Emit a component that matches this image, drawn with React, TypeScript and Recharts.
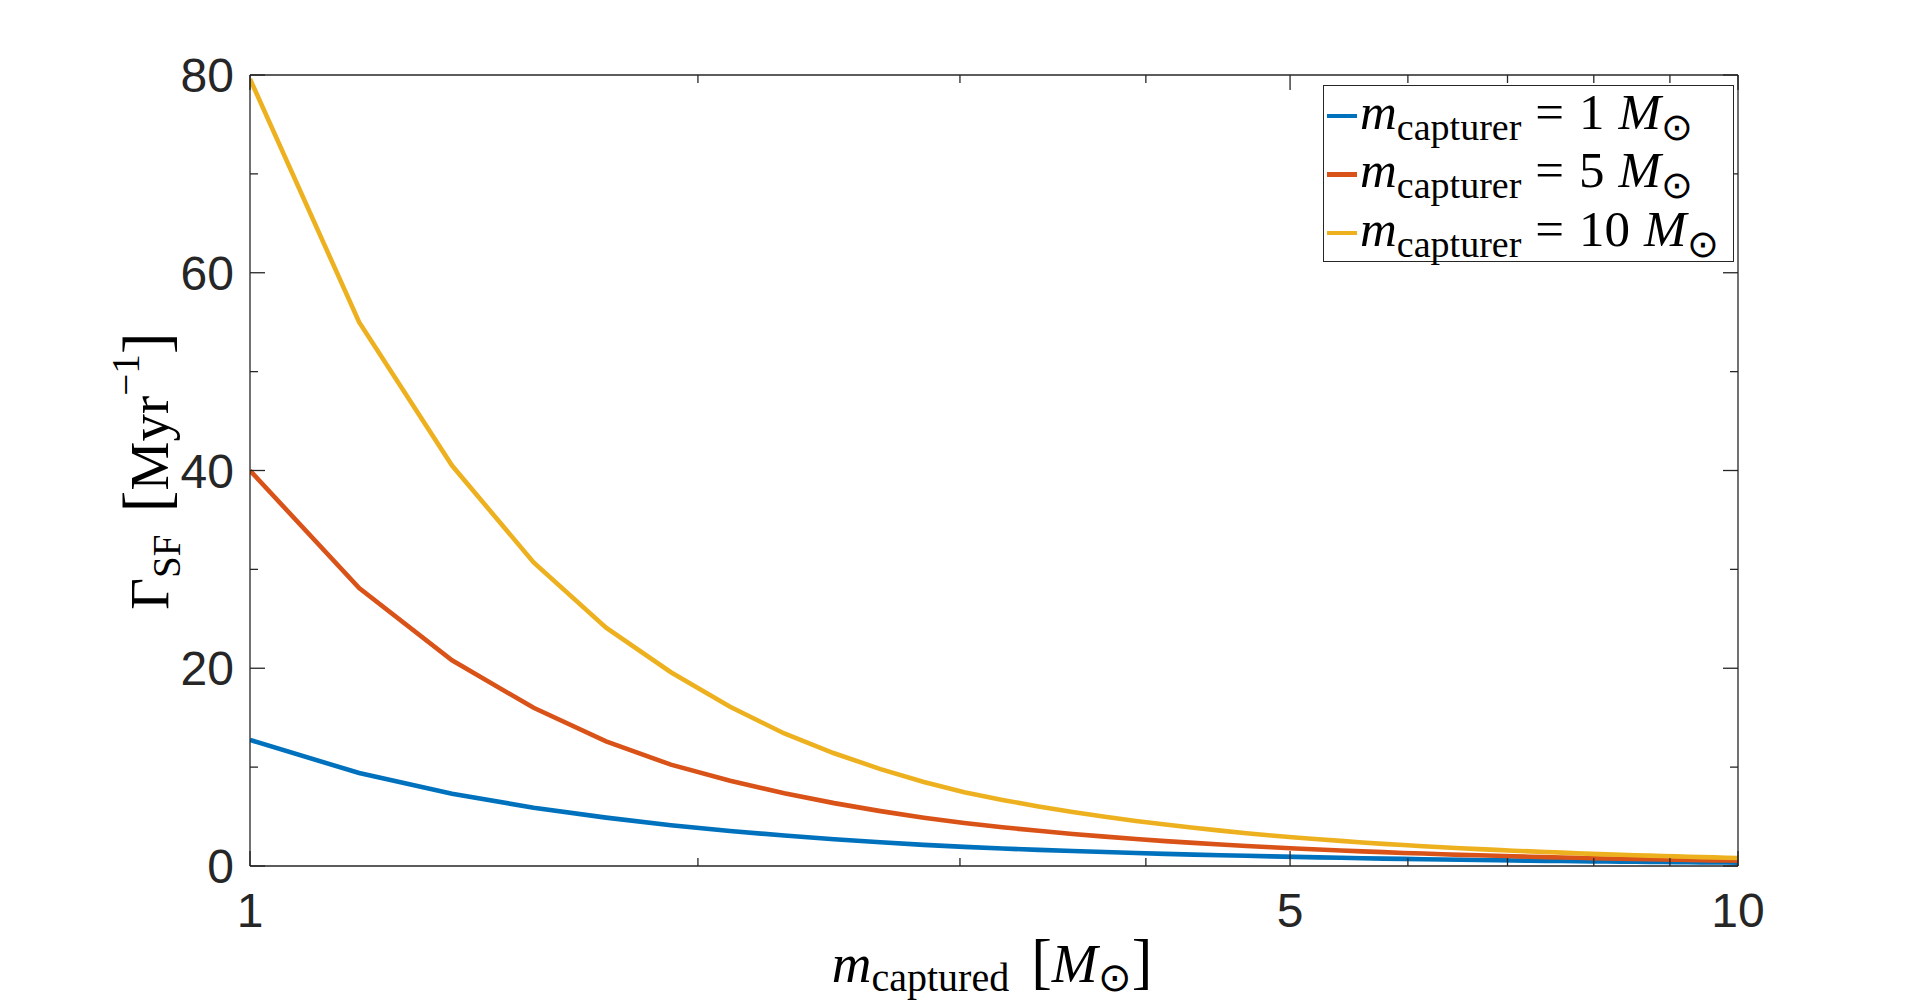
import { LineChart, Line, XAxis, YAxis, Legend } from 'recharts';

// m_captured sample points (linspace 1..10, 50 points)
const M_CAPTURED = [
  1.0, 1.184, 1.367, 1.551, 1.735, 1.918, 2.102, 2.286, 2.469, 2.653,
  2.837, 3.02, 3.204, 3.388, 3.571, 3.755, 3.939, 4.122, 4.306, 4.49,
  4.673, 4.857, 5.041, 5.224, 5.408, 5.592, 5.776, 5.959, 6.143, 6.327,
  6.51, 6.694, 6.878, 7.061, 7.245, 7.429, 7.612, 7.796, 7.98, 8.163,
  8.347, 8.531, 8.714, 8.898, 9.082, 9.265, 9.449, 9.633, 9.816, 10.0,
];

// Gamma_SF [Myr^-1]
const RATE_M1 = [
  12.75, 9.4, 7.3, 5.9, 4.89, 4.13, 3.54, 3.08, 2.7, 2.4,
  2.14, 1.93, 1.77, 1.63, 1.51, 1.41, 1.31, 1.23, 1.15, 1.09,
  1.03, 0.97, 0.92, 0.87, 0.83, 0.79, 0.75, 0.72, 0.69, 0.66,
  0.63, 0.61, 0.59, 0.56, 0.54, 0.52, 0.51, 0.49, 0.47, 0.46,
  0.44, 0.43, 0.42, 0.4, 0.39, 0.38, 0.37, 0.36, 0.35, 0.34,
];
const RATE_M5 = [
  40.0, 28.1, 20.8, 16.0, 12.6, 10.25, 8.62, 7.36, 6.36, 5.55,
  4.89, 4.35, 3.92, 3.56, 3.24, 2.97, 2.73, 2.52, 2.34, 2.17,
  2.03, 1.89, 1.77, 1.67, 1.57, 1.48, 1.4, 1.32, 1.26, 1.19,
  1.13, 1.08, 1.03, 0.98, 0.94, 0.9, 0.86, 0.83, 0.79, 0.76,
  0.73, 0.71, 0.68, 0.66, 0.63, 0.61, 0.59, 0.57, 0.55, 0.54,
];
const RATE_M10 = [
  79.6, 55.0, 40.5, 30.7, 24.1, 19.6, 16.1, 13.4, 11.4, 9.8,
  8.5, 7.45, 6.68, 6.02, 5.46, 4.98, 4.56, 4.19, 3.87, 3.58,
  3.32, 3.09, 2.89, 2.7, 2.54, 2.38, 2.24, 2.12, 2.0, 1.9,
  1.8, 1.71, 1.63, 1.55, 1.48, 1.41, 1.35, 1.29, 1.23, 1.18,
  1.14, 1.09, 1.05, 1.01, 0.97, 0.94, 0.9, 0.87, 0.84, 0.81,
];

const CAPTURER_MASSES = ['1', '5', '10'];
const SERIES_KEYS = ['m1', 'm5', 'm10'];
const SERIES_COLORS = ['#0072BD', '#D95319', '#EDB120'];

const X_TICKS = [1, 2, 3, 4, 5, 6, 7, 8, 9, 10];
const X_LABELS = [1, 5, 10];
const Y_TICKS = [0, 10, 20, 30, 40, 50, 60, 70, 80];
const Y_LABELS = [0, 20, 40, 60, 80];

const rows = M_CAPTURED.map((x, i) => ({
  x,
  m1: RATE_M1[i],
  m5: RATE_M5[i],
  m10: RATE_M10[i],
}));

const AXIS = '#262626';
const SANS = '"Liberation Sans", Arial, Helvetica, sans-serif';
const SERIF = '"Liberation Serif", "Times New Roman", serif';
const MAJOR = 15;
const MINOR = 8;

function XTick({ x, y, payload, side }: any) {
  const v = payload.value;
  const len = X_LABELS.includes(v) ? MAJOR : MINOR;
  const dir = side === 'bottom' ? -1 : 1;
  return (
    <g>
      <line x1={x} y1={y} x2={x} y2={y + dir * len} stroke={AXIS} strokeWidth={1.3} />
      {side === 'bottom' && X_LABELS.includes(v) && (
        <text x={x} y={y + 61} textAnchor="middle" fontFamily={SANS} fontSize={48} fill={AXIS}>
          {v}
        </text>
      )}
    </g>
  );
}

function YTick({ x, y, payload, side }: any) {
  const v = payload.value;
  const len = Y_LABELS.includes(v) ? MAJOR : MINOR;
  const dir = side === 'left' ? 1 : -1;
  return (
    <g>
      <line x1={x} y1={y} x2={x + dir * len} y2={y} stroke={AXIS} strokeWidth={1.3} />
      {side === 'left' && Y_LABELS.includes(v) && (
        <text x={x - 16} y={y + 17} textAnchor="end" fontFamily={SANS} fontSize={48} fill={AXIS}>
          {v}
        </text>
      )}
    </g>
  );
}

const sub = { fontSize: 38, verticalAlign: '-0.28em', lineHeight: 1 };

function LegendBox() {
  return (
    <div
      style={{
        position: 'relative',
        width: 409,
        height: 175,
        border: `1.3px solid ${AXIS}`,
        background: '#fff',
      }}
    >
      {CAPTURER_MASSES.map((m, i) => (
        <div
          key={m}
          style={{
            position: 'absolute',
            left: 0,
            top: 1 + i * 58.5,
            height: 58,
            display: 'flex',
            alignItems: 'center',
            whiteSpace: 'nowrap',
          }}
        >
          <span style={{ display: 'inline-block', width: 30, height: 4.5, marginLeft: 3, background: SERIES_COLORS[i] }} />
          <span style={{ fontFamily: SERIF, fontSize: 51, lineHeight: 1, color: '#000', marginLeft: 3 }}>
            <i>m</i>
            <span style={sub}>capturer</span>
            <span style={{ margin: '0 15px 0 14px' }}>=</span>
            {m}
            <span style={{ marginLeft: 14 }}>
              <i>M</i>
            </span>
            <span style={sub}>⊙</span>
          </span>
        </div>
      ))}
    </div>
  );
}

export default function App() {
  return (
    <div style={{ position: 'absolute', left: 0, top: 0, width: 1920, height: 1005, background: '#fff' }}>
      <LineChart width={1920} height={1005} data={rows} margin={{ top: 74, right: 181, bottom: 138, left: 249 }}>
        <XAxis
          xAxisId="b"
          dataKey="x"
          type="number"
          scale="log"
          domain={[1, 10]}
          allowDataOverflow
          ticks={X_TICKS}
          interval={0}
          height={1}
          tickSize={0}
          tickMargin={0}
          tickLine={false}
          axisLine={{ stroke: AXIS, strokeWidth: 1.3 }}
          tick={(p: any) => <XTick {...p} side="bottom" />}
        />
        <XAxis
          xAxisId="t"
          orientation="top"
          dataKey="x"
          type="number"
          scale="log"
          domain={[1, 10]}
          allowDataOverflow
          ticks={X_TICKS}
          interval={0}
          height={1}
          tickSize={0}
          tickMargin={0}
          tickLine={false}
          axisLine={{ stroke: AXIS, strokeWidth: 1.3 }}
          tick={(p: any) => <XTick {...p} side="top" />}
        />
        <YAxis
          yAxisId="l"
          type="number"
          domain={[0, 80]}
          allowDataOverflow
          ticks={Y_TICKS}
          interval={0}
          width={1}
          tickSize={0}
          tickMargin={0}
          tickLine={false}
          axisLine={{ stroke: AXIS, strokeWidth: 1.3 }}
          tick={(p: any) => <YTick {...p} side="left" />}
        />
        <YAxis
          yAxisId="r"
          orientation="right"
          type="number"
          domain={[0, 80]}
          allowDataOverflow
          ticks={Y_TICKS}
          interval={0}
          width={1}
          tickSize={0}
          tickMargin={0}
          tickLine={false}
          axisLine={{ stroke: AXIS, strokeWidth: 1.3 }}
          tick={(p: any) => <YTick {...p} side="right" />}
        />
        {SERIES_KEYS.map((k, i) => (
          <Line
            key={k}
            xAxisId="b"
            yAxisId="l"
            type="linear"
            dataKey={k}
            stroke={SERIES_COLORS[i]}
            strokeWidth={4.6}
            dot={false}
            isAnimationActive={false}
          />
        ))}
        {/* invisible twin so the top/right axes get the same domain */}
        <Line xAxisId="t" yAxisId="r" dataKey="m1" stroke="none" dot={false} legendType="none" isAnimationActive={false} />
        <Legend
          layout="vertical"
          align="center"
          verticalAlign="middle"
          content={() => <LegendBox />}
          wrapperStyle={{ left: 1323, top: 85, width: 412, height: 178 }}
        />
      </LineChart>

      <div
        style={{
          position: 'absolute',
          left: 146,
          top: 471,
          transform: 'translate(-50%, -50%) rotate(-90deg)',
          whiteSpace: 'nowrap',
          fontFamily: SERIF,
          fontSize: 55,
          color: '#000',
          lineHeight: 1,
        }}
      >
        Γ<span style={{ fontSize: 39, verticalAlign: '-0.3em' }}>SF</span>
        <span style={{ marginLeft: 22, fontSize: 66 }}>[</span>Myr
        <span style={{ fontSize: 39, verticalAlign: '0.75em' }}>−1</span>
        <span style={{ fontSize: 66 }}>]</span>
      </div>

      <div
        style={{
          position: 'absolute',
          left: 992,
          top: 930,
          transform: 'translateX(-50%)',
          whiteSpace: 'nowrap',
          fontFamily: SERIF,
          fontSize: 55,
          color: '#000',
          lineHeight: 1,
        }}
      >
        <i>m</i>
        <span style={{ fontSize: 40, verticalAlign: '-0.22em' }}>captured</span>
        <span style={{ marginLeft: 22, fontSize: 62 }}>[</span>
        <i>M</i>
        <span style={{ fontSize: 40, verticalAlign: '-0.22em' }}>⊙</span>
        <span style={{ fontSize: 62 }}>]</span>
      </div>
    </div>
  );
}
